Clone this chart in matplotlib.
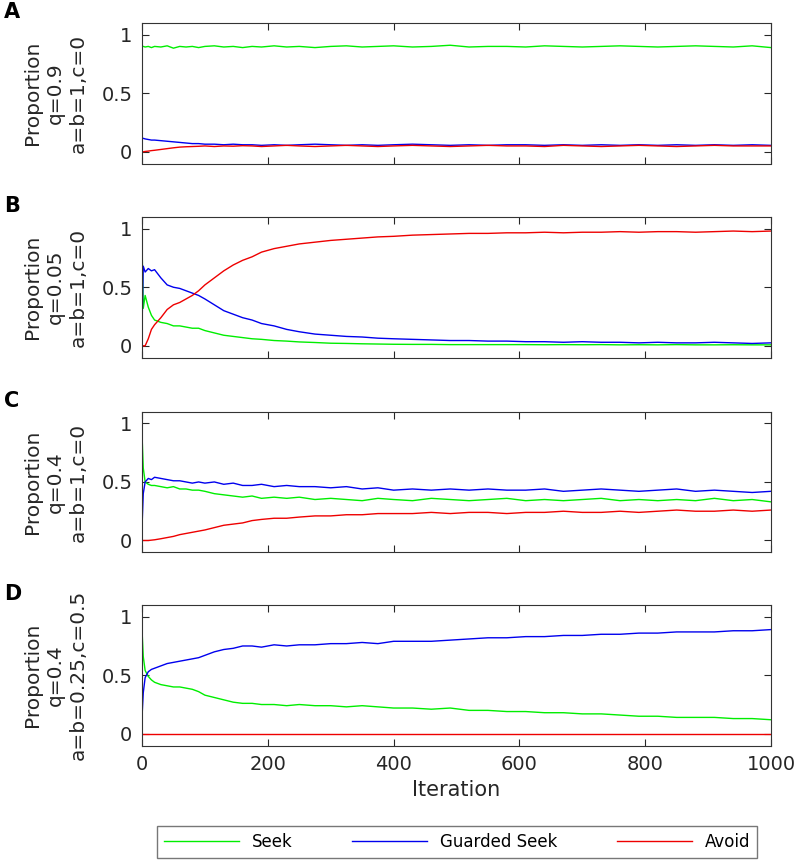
import numpy as np
import matplotlib
matplotlib.use('Agg')
import matplotlib.pyplot as plt

# iteration positions the values were read at
iters = [0, 2, 5, 10, 15, 20, 30, 40, 50, 60, 70, 80, 90, 100, 115, 130, 145, 160, 175, 190,
         210, 230, 250, 275, 300, 325, 350, 375, 400, 430, 460, 490, 520, 550, 580, 610, 640,
         670, 700, 730, 760, 790, 820, 850, 880, 910, 940, 970, 1000]

# panel A: q=0.9, a=b=1, c=0
seek_a = [0.90, 0.90, 0.895, 0.90, 0.89, 0.90, 0.895, 0.905, 0.885, 0.90, 0.895, 0.90, 0.89, 0.90,
          0.905, 0.895, 0.90, 0.89, 0.90, 0.895, 0.905, 0.895, 0.90, 0.89, 0.90, 0.905, 0.895, 0.90,
          0.905, 0.895, 0.90, 0.91, 0.895, 0.90, 0.90, 0.895, 0.905, 0.90, 0.895, 0.90, 0.905, 0.90,
          0.895, 0.90, 0.905, 0.90, 0.895, 0.905, 0.89]
guard_a = [0.11, 0.115, 0.11, 0.105, 0.10, 0.10, 0.095, 0.09, 0.085, 0.08, 0.075, 0.07, 0.07, 0.065,
           0.065, 0.06, 0.065, 0.06, 0.06, 0.055, 0.06, 0.055, 0.06, 0.065, 0.06, 0.055, 0.06, 0.055,
           0.06, 0.065, 0.06, 0.055, 0.06, 0.055, 0.06, 0.06, 0.055, 0.06, 0.055, 0.06, 0.055, 0.06,
           0.055, 0.06, 0.055, 0.06, 0.055, 0.06, 0.055]
avoid_a = [0.0, 0.0, 0.003, 0.006, 0.01, 0.013, 0.02, 0.027, 0.034, 0.04, 0.043, 0.045, 0.047, 0.05,
           0.045, 0.05, 0.048, 0.052, 0.05, 0.045, 0.05, 0.055, 0.05, 0.045, 0.05, 0.055, 0.05, 0.045,
           0.05, 0.055, 0.05, 0.045, 0.05, 0.055, 0.05, 0.05, 0.045, 0.055, 0.05, 0.045, 0.05, 0.055,
           0.05, 0.045, 0.05, 0.055, 0.05, 0.05, 0.05]

# panel B: q=0.05, a=b=1, c=0
seek_b = [0.88, 0.32, 0.43, 0.33, 0.26, 0.22, 0.20, 0.19, 0.17, 0.17, 0.16, 0.15, 0.15, 0.13, 0.11,
          0.09, 0.08, 0.07, 0.06, 0.055, 0.045, 0.04, 0.033, 0.028, 0.022, 0.02, 0.017, 0.015, 0.013,
          0.012, 0.012, 0.01, 0.01, 0.01, 0.01, 0.01, 0.009, 0.01, 0.009, 0.01, 0.008, 0.009, 0.008,
          0.01, 0.008, 0.008, 0.009, 0.008, 0.008]
guard_b = [0.15, 0.68, 0.63, 0.66, 0.64, 0.65, 0.58, 0.52, 0.50, 0.49, 0.47, 0.45, 0.43, 0.40, 0.35,
           0.30, 0.27, 0.24, 0.22, 0.19, 0.17, 0.14, 0.12, 0.10, 0.09, 0.08, 0.075, 0.065, 0.06, 0.055,
           0.05, 0.045, 0.045, 0.04, 0.04, 0.035, 0.035, 0.03, 0.035, 0.03, 0.03, 0.025, 0.03, 0.025,
           0.025, 0.03, 0.025, 0.02, 0.025]
avoid_b = [0.0, 0.0, 0.0, 0.06, 0.14, 0.18, 0.24, 0.31, 0.35, 0.37, 0.40, 0.43, 0.47, 0.52, 0.58,
           0.64, 0.69, 0.73, 0.76, 0.80, 0.83, 0.85, 0.87, 0.885, 0.90, 0.91, 0.92, 0.93, 0.935, 0.945,
           0.95, 0.955, 0.96, 0.96, 0.965, 0.965, 0.97, 0.965, 0.97, 0.97, 0.975, 0.97, 0.975, 0.975,
           0.97, 0.975, 0.98, 0.975, 0.98]

# panel C: q=0.4, a=b=1, c=0
seek_c = [0.91, 0.62, 0.50, 0.48, 0.47, 0.47, 0.46, 0.45, 0.46, 0.44, 0.44, 0.43, 0.43, 0.42, 0.40,
          0.39, 0.38, 0.37, 0.38, 0.36, 0.37, 0.36, 0.37, 0.35, 0.36, 0.35, 0.34, 0.36, 0.35, 0.34,
          0.36, 0.35, 0.34, 0.35, 0.36, 0.34, 0.35, 0.34, 0.35, 0.36, 0.34, 0.35, 0.34, 0.35, 0.34,
          0.36, 0.34, 0.35, 0.33]
guard_c = [0.11, 0.40, 0.50, 0.53, 0.52, 0.54, 0.53, 0.52, 0.51, 0.51, 0.50, 0.49, 0.50, 0.49, 0.50,
           0.48, 0.49, 0.47, 0.47, 0.48, 0.46, 0.47, 0.46, 0.46, 0.45, 0.46, 0.44, 0.45, 0.43, 0.44,
           0.43, 0.44, 0.43, 0.44, 0.43, 0.43, 0.44, 0.42, 0.43, 0.44, 0.43, 0.42, 0.43, 0.44, 0.42,
           0.43, 0.42, 0.41, 0.42]
avoid_c = [0.0, 0.0, 0.0, 0.0, 0.003, 0.006, 0.015, 0.025, 0.035, 0.05, 0.06, 0.07, 0.08, 0.09, 0.11,
           0.13, 0.14, 0.15, 0.17, 0.18, 0.19, 0.19, 0.20, 0.21, 0.21, 0.22, 0.22, 0.23, 0.23, 0.23,
           0.24, 0.23, 0.24, 0.24, 0.23, 0.24, 0.24, 0.25, 0.24, 0.24, 0.25, 0.24, 0.25, 0.26, 0.25,
           0.25, 0.26, 0.25, 0.26]

# panel D: q=0.4, a=b=0.25, c=0.5
seek_d = [0.89, 0.66, 0.54, 0.49, 0.46, 0.44, 0.42, 0.41, 0.40, 0.40, 0.39, 0.38, 0.36, 0.33, 0.31,
          0.29, 0.27, 0.26, 0.26, 0.25, 0.25, 0.24, 0.25, 0.24, 0.24, 0.23, 0.24, 0.23, 0.22, 0.22,
          0.21, 0.22, 0.20, 0.20, 0.19, 0.19, 0.18, 0.18, 0.17, 0.17, 0.16, 0.15, 0.15, 0.14, 0.14,
          0.14, 0.13, 0.13, 0.12]
guard_d = [0.14, 0.35, 0.48, 0.53, 0.55, 0.56, 0.58, 0.60, 0.61, 0.62, 0.63, 0.64, 0.65, 0.67, 0.70,
           0.72, 0.73, 0.75, 0.75, 0.74, 0.76, 0.75, 0.76, 0.76, 0.77, 0.77, 0.78, 0.77, 0.79, 0.79,
           0.79, 0.80, 0.81, 0.82, 0.82, 0.83, 0.83, 0.84, 0.84, 0.85, 0.85, 0.86, 0.86, 0.87, 0.87,
           0.87, 0.88, 0.88, 0.89]
avoid_d = [0.0] * len(iters)

panel_letters = ['A', 'B', 'C', 'D']
ylabels = ['Proportion\nq=0.9\na=b=1,c=0',
           'Proportion\nq=0.05\na=b=1,c=0',
           'Proportion\nq=0.4\na=b=1,c=0',
           'Proportion\nq=0.4\na=b=0.25,c=0.5']
series = [(seek_a, guard_a, avoid_a), (seek_b, guard_b, avoid_b),
          (seek_c, guard_c, avoid_c), (seek_d, guard_d, avoid_d)]
names = ['Seek', 'Guarded Seek', 'Avoid']
colors = ['#00ee00', '#0000ee', '#ee0000']

W, H = 800, 868
fig = plt.figure(figsize=(W / 100, H / 100), dpi=100)
text_col = '#262626'

tops = [23, 217, 411.7, 605]
ax_h = 140.5
for i in range(4):
    ax = fig.add_axes([142 / W, 1 - (tops[i] + ax_h) / H, 629 / W, ax_h / H])
    for vals, c, n in zip(series[i], colors, names):
        ax.plot(iters, vals, color=c, lw=1.0, label=n)
    ax.set_xlim(0, 1000)
    ax.set_ylim(-0.1, 1.1)
    ax.set_yticks([0, 0.5, 1])
    ax.set_yticklabels(['0', '0.5', '1'])
    ax.set_xticks([0, 200, 400, 600, 800, 1000])
    ax.tick_params(direction='in', top=True, right=True, length=5, width=0.8,
                   labelsize=14, colors=text_col, pad=7)
    for s in ax.spines.values():
        s.set_color('#333333')
        s.set_linewidth(0.8)
    if i < 3:
        ax.set_xticklabels([])
    else:
        ax.set_xlabel('Iteration', fontsize=15, color=text_col, labelpad=4)
    ax.set_ylabel(ylabels[i], fontsize=14.5, color=text_col, linespacing=1.25, labelpad=10)
    fig.text(4 / W, 1 - (tops[i] - 21) / H, panel_letters[i], fontsize=15,
             fontweight='bold', va='top', ha='left', color='black')
    if i == 3:
        handles, labs = ax.get_legend_handles_labels()

leg = fig.legend(handles, labs, loc='center', ncol=3, mode='expand',
                 bbox_to_anchor=(157 / W, 1 - 862 / H, 600 / W, 40 / H),
                 fontsize=12, handlelength=4.5, frameon=True, fancybox=False,
                 borderaxespad=0, handletextpad=0.8)
leg.get_frame().set_edgecolor('#555555')
leg.get_frame().set_linewidth(1.0)

fig.savefig('out.png', dpi=100)
